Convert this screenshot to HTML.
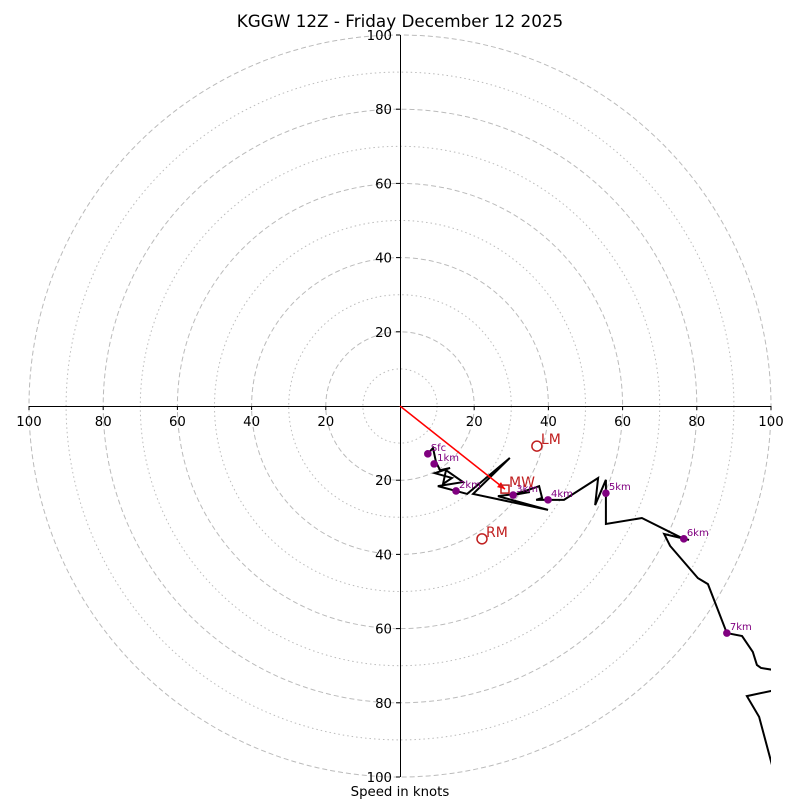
<!DOCTYPE html>
<html><head><meta charset="utf-8"><style>
body{margin:0;background:#fff}
svg{display:block;font-family:"DejaVu Sans","Liberation Sans",sans-serif}
</style></head><body>
<svg id="c" width="800" height="800" viewBox="0 0 800 800">
<defs><clipPath id="clip"><rect x="29" y="35" width="742" height="742"/></clipPath></defs>
<text x="400" y="27" text-anchor="middle" font-size="16.8">KGGW 12Z - Friday December 12 2025</text>
<text x="400" y="796" text-anchor="middle" font-size="13.3">Speed in knots</text>
<g id="rings"></g><g id="axes"></g><g id="trace" clip-path="url(#clip)"></g><g id="marks"></g>
</svg>
<script>
const ringValues=[10,20,30,40,50,60,70,80,90,100];
const tickValues=[20,40,60,80,100];
const traceU=[7.5,8.9,9.7,10.8,13.5,9.4,14.0,11.6,12.4,17.0,10.2,15.1,18.1,29.6,19.7,39.9,26.4,35.0,30.5,37.5,38.3,36.7,39.9,44.2,53.4,52.6,55.5,55.5,55.5,65.2,76.0,77.9,71.2,72.8,80.3,83.0,88.1,92.2,95.1,96.2,97.3,101,103.8];
const traceV=[-12.9,-11.3,-15.1,-17.3,-16.7,-18.1,-19.4,-21.0,-17.3,-20.5,-21.6,-22.9,-23.7,-14.0,-23.7,-28.0,-24.3,-23.2,-24.0,-21.6,-24.8,-25.3,-25.3,-25.3,-19.4,-26.7,-19.9,-23.5,-31.8,-30.2,-35.6,-36.1,-34.5,-37.7,-46.4,-48.0,-61.2,-62.0,-66.3,-69.8,-70.6,-71.2,-71.7];
const trace2U=[105,100,93.5,96.8,101];
const trace2V=[-76,-76.8,-78.2,-83.8,-99.5];
const hgtLabels=["Sfc","1km","2km","3km","4km","5km","6km","7km"];
const hgtU=[7.5,9.2,15.1,30.5,39.9,55.5,76.5,88.1];
const hgtV=[-12.9,-15.6,-22.9,-24.0,-25.3,-23.5,-35.8,-61.2];
const motionLabels=["LM","RM","MW"];
const motionU=[36.9,22.1,28.3];
const motionV=[-10.8,-35.8,-22.4];
const cx=400,cy=406,k=3.71;
const X=u=>cx+u*k, Y=v=>cy-v*k;
const NS="http://www.w3.org/2000/svg";
function mk(tag,attrs,parent,txt){const e=document.createElementNS(NS,tag);for(const a in attrs)e.setAttribute(a,attrs[a]);if(txt!==undefined)e.textContent=txt;document.getElementById(parent).appendChild(e);return e;}
ringValues.forEach(r=>{const e=mk('circle',{cx:cx,cy:cy,r:r*k,fill:'none',stroke:'#bbb','stroke-width':1,'stroke-dasharray':r%20===0?'5,3':'1.5,3'},'rings');

});
let l=mk('line',{x1:X(-100),y1:cy+0.5,x2:X(100),y2:cy+0.5,stroke:'#000','stroke-width':1},'axes');


l=mk('line',{x1:cx+0.5,y1:Y(100),x2:cx+0.5,y2:Y(-100),stroke:'#000','stroke-width':1},'axes');


tickValues.forEach(t=>{[t,-t].forEach(s=>{
mk('line',{x1:X(s),y1:cy,x2:X(s),y2:cy+4,stroke:'#000'},'axes');
let tx=mk('text',{x:X(s),y:cy+20,'text-anchor':'middle','font-size':13.3},'axes',String(t));


mk('line',{x1:cx-4,y1:Y(s),x2:cx,y2:Y(s),stroke:'#000'},'axes');
let ty=mk('text',{x:cx-8,y:Y(s)+5,'text-anchor':'end','font-size':13.3},'axes',String(t));

});});
let p=mk('polyline',{points:traceU.map((u,i)=>X(u)+','+Y(traceV[i])).join(' '),fill:'none',stroke:'#000','stroke-width':2,'stroke-linejoin':'miter'},'trace');


p=mk('polyline',{points:trace2U.map((u,i)=>X(u)+','+Y(trace2V[i])).join(' '),fill:'none',stroke:'#000','stroke-width':2},'trace');


let a=mk('line',{x1:cx,y1:cy,x2:X(motionU[2]),y2:Y(motionV[2]),stroke:'#f00','stroke-width':1.5},'marks');


mk('polygon',{points:`${X(motionU[2])},${Y(motionV[2])} ${X(motionU[2])-8},${Y(motionV[2])-2} ${X(motionU[2])-4},${Y(motionV[2])-7}`,fill:'#f00'},'marks');
hgtLabels.forEach((h,i)=>{const d=mk('circle',{cx:X(hgtU[i]),cy:Y(hgtV[i]),r:3.8,fill:'#800080'},'marks');


const t=mk('text',{x:X(hgtU[i])+3,y:Y(hgtV[i])-3,'font-size':10,fill:'#800080'},'marks',h);

});
motionLabels.forEach((m,i)=>{let s;
if(m==='MW'){s=mk('rect',{x:X(motionU[i])-4,y:Y(motionV[i])-4,width:8,height:8,fill:'none',stroke:'#c02020','stroke-width':1.5},'marks');}
else{s=mk('circle',{cx:X(motionU[i]),cy:Y(motionV[i]),r:5,fill:'none',stroke:'#c02020','stroke-width':1.5},'marks');}


const t=mk('text',{x:X(motionU[i])+4,y:Y(motionV[i])-2,'font-size':14,fill:'#c02020'},'marks',m);

});
</script>
</body></html>
